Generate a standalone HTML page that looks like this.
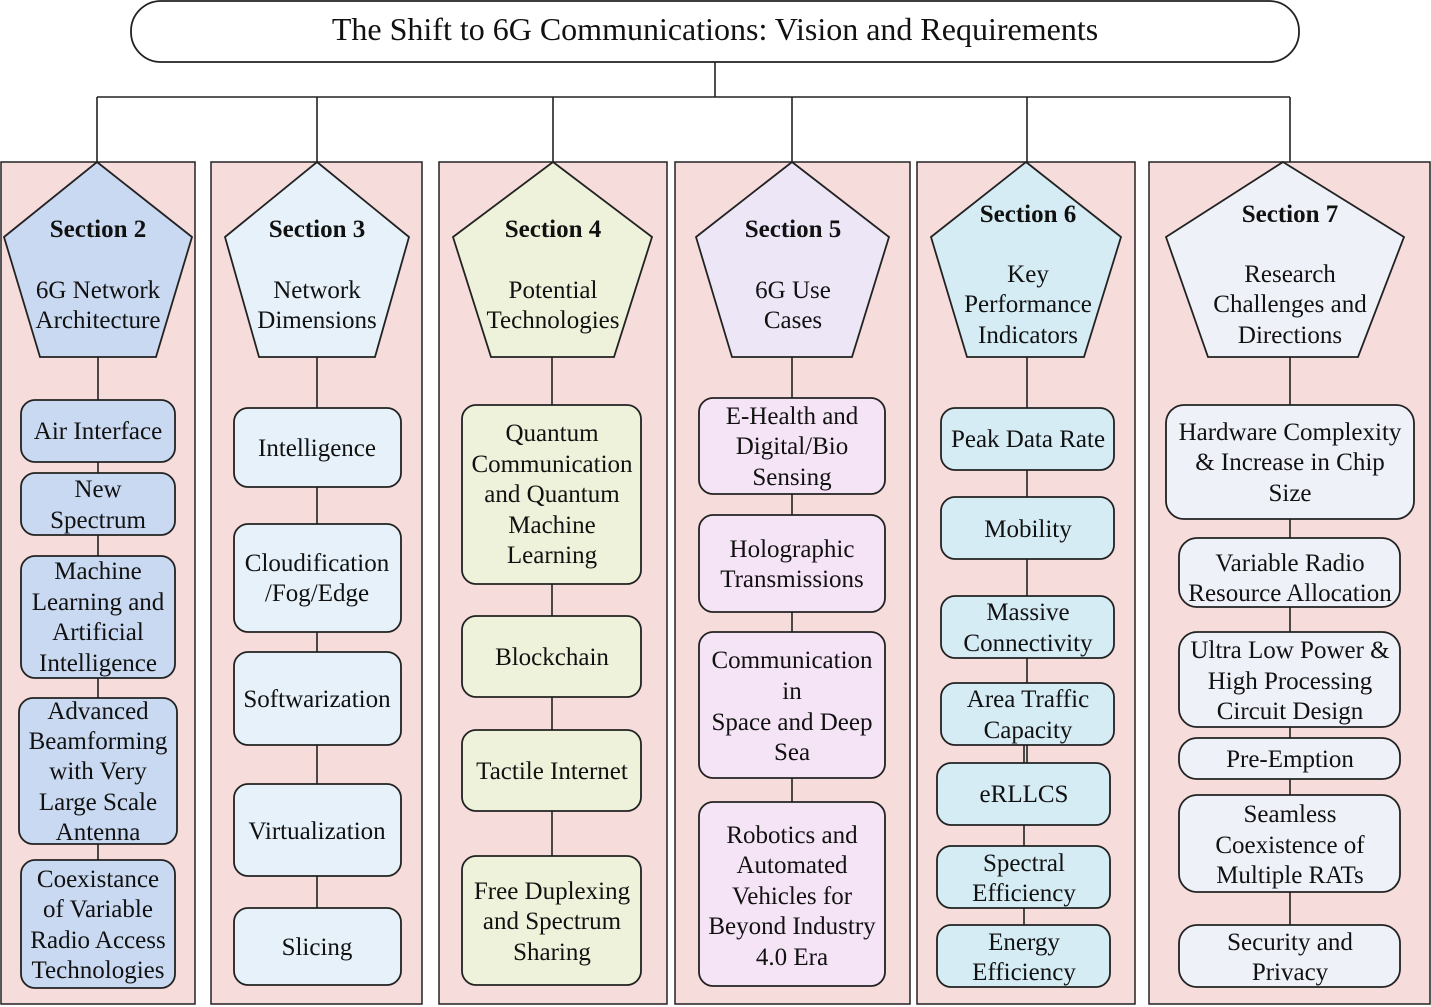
<!DOCTYPE html>
<html><head><meta charset="utf-8"><style>
html,body{margin:0;padding:0;background:#fff}
svg{display:block}
text{font-family:"Liberation Serif",serif;font-size:25px;fill:#111;text-anchor:middle}
.b{font-weight:bold;font-size:25px}
.p{fill:#f7dcdc;stroke:#222;stroke-width:1.5}
rect.x{stroke:#222;stroke-width:1.8}
polygon{stroke:#222;stroke-width:1.8}
line{stroke:#222;stroke-width:1.6}
</style></head><body>
<svg width="1431" height="1007" viewBox="0 0 1431 1007">
<rect x="131" y="1" width="1168" height="61" rx="30" fill="#fff" stroke="#222" stroke-width="1.8"/>
<text x="715" y="40" style="font-size:32px">The Shift to 6G Communications: Vision and Requirements</text>
<line x1="715" y1="62" x2="715" y2="97"/>
<line x1="97" y1="97" x2="1290" y2="97"/>
<line x1="97" y1="97" x2="97" y2="162"/>
<line x1="317" y1="97" x2="317" y2="162"/>
<line x1="553" y1="97" x2="553" y2="162"/>
<line x1="792" y1="97" x2="792" y2="162"/>
<line x1="1027" y1="97" x2="1027" y2="162"/>
<line x1="1290" y1="97" x2="1290" y2="162"/>

<rect class="p" x="1" y="162" width="194" height="842"/>
<rect class="p" x="211" y="162" width="211" height="842"/>
<rect class="p" x="439" y="162" width="228" height="842"/>
<rect class="p" x="675" y="162" width="235" height="842"/>
<rect class="p" x="917" y="162" width="218" height="842"/>
<rect class="p" x="1149" y="162" width="281" height="842"/>

<line x1="98" y1="357" x2="98" y2="860"/>
<line x1="317" y1="357" x2="317" y2="908"/>
<line x1="552" y1="357" x2="552" y2="856"/>
<line x1="792" y1="357" x2="792" y2="802"/>
<line x1="1027" y1="357" x2="1027" y2="763"/>
<line x1="1024" y1="745" x2="1024" y2="925"/>
<line x1="1290" y1="357" x2="1290" y2="925"/>

<polygon points="97,162 192,237 156,357 40,357 4,237" fill="#c9d9f1"/>
<polygon points="317,162 409,237 375,357 259,357 225,237" fill="#e6f1f9"/>
<polygon points="553,162 652,237 614,357 491,357 453,237" fill="#eef2da"/>
<polygon points="792,162 889,237 852,357 732,357 696,237" fill="#ece6f7"/>
<polygon points="1026,162 1121,237 1084,357 967,357 931,237" fill="#d5ecf5"/>
<polygon points="1283,162 1404,237 1358,357 1208,357 1166,237" fill="#eff1f9"/>

<text class="b" x="98" y="237">Section 2</text><text x="98" y="298">6G Network</text><text x="98" y="328">Architecture</text>
<text class="b" x="317" y="237">Section 3</text><text x="317" y="298">Network</text><text x="317" y="328">Dimensions</text>
<text class="b" x="553" y="237">Section 4</text><text x="553" y="298">Potential</text><text x="553" y="328">Technologies</text>
<text class="b" x="793" y="237">Section 5</text><text x="793" y="298">6G Use</text><text x="793" y="328">Cases</text>
<text class="b" x="1028" y="222">Section 6</text><text x="1028" y="282">Key</text><text x="1028" y="312">Performance</text><text x="1028" y="343">Indicators</text>
<text class="b" x="1290" y="222">Section 7</text><text x="1290" y="282">Research</text><text x="1290" y="312">Challenges  and</text><text x="1290" y="343">Directions</text>

<g fill="#c9d9f1">
<rect class="x" x="21" y="400" width="154" height="62" rx="14"/>
<rect class="x" x="21" y="473" width="154" height="62" rx="14"/>
<rect class="x" x="21" y="556" width="154" height="122" rx="14"/>
<rect class="x" x="19" y="698" width="158" height="146" rx="14"/>
<rect class="x" x="21" y="860" width="154" height="128" rx="14"/>
</g>
<text x="98" y="439">Air Interface</text>
<text x="98" y="497">New</text><text x="98" y="528">Spectrum</text>
<text x="98" y="579">Machine</text><text x="98" y="610">Learning and</text><text x="98" y="640">Artificial</text><text x="98" y="671">Intelligence</text>
<text x="98" y="719">Advanced</text><text x="98" y="749">Beamforming</text><text x="98" y="779">with Very</text><text x="98" y="810">Large Scale</text><text x="98" y="840">Antenna</text>
<text x="98" y="887">Coexistance</text><text x="98" y="917">of Variable</text><text x="98" y="948">Radio Access</text><text x="98" y="978">Technologies</text>

<g fill="#e6f1f9">
<rect class="x" x="234" y="408" width="167" height="79" rx="14"/>
<rect class="x" x="234" y="524" width="167" height="108" rx="14"/>
<rect class="x" x="234" y="652" width="167" height="93" rx="14"/>
<rect class="x" x="234" y="784" width="167" height="92" rx="14"/>
<rect class="x" x="234" y="908" width="167" height="77" rx="14"/>
</g>
<text x="317" y="456">Intelligence</text>
<text x="317" y="571">Cloudification</text><text x="317" y="601">/Fog/Edge</text>
<text x="317" y="707">Softwarization</text>
<text x="317" y="839">Virtualization</text>
<text x="317" y="955">Slicing</text>

<g fill="#eef2da">
<rect class="x" x="462" y="405" width="179" height="179" rx="14"/>
<rect class="x" x="462" y="616" width="179" height="81" rx="14"/>
<rect class="x" x="462" y="730" width="179" height="81" rx="14"/>
<rect class="x" x="462" y="856" width="179" height="129" rx="14"/>
</g>
<text x="552" y="441">Quantum</text><text x="552" y="472">Communication</text><text x="552" y="502">and Quantum</text><text x="552" y="533">Machine</text><text x="552" y="563">Learning</text>
<text x="552" y="665">Blockchain</text>
<text x="552" y="779">Tactile Internet</text>
<text x="552" y="899">Free Duplexing</text><text x="552" y="929">and Spectrum</text><text x="552" y="960">Sharing</text>

<g fill="#f5e4f5">
<rect class="x" x="699" y="398" width="186" height="96" rx="14"/>
<rect class="x" x="699" y="515" width="186" height="97" rx="14"/>
<rect class="x" x="699" y="632" width="186" height="146" rx="14"/>
<rect class="x" x="699" y="802" width="186" height="184" rx="14"/>
</g>
<text x="792" y="424">E-Health and</text><text x="792" y="454">Digital/Bio</text><text x="792" y="485">Sensing</text>
<text x="792" y="557">Holographic</text><text x="792" y="587">Transmissions</text>
<text x="792" y="668">Communication</text><text x="792" y="699">in</text><text x="792" y="730">Space and Deep</text><text x="792" y="760">Sea</text>
<text x="792" y="843">Robotics and</text><text x="792" y="873">Automated</text><text x="792" y="904">Vehicles for</text><text x="792" y="934">Beyond Industry</text><text x="792" y="965">4.0 Era</text>

<g fill="#d5ecf5">
<rect class="x" x="941" y="408" width="173" height="62" rx="14"/>
<rect class="x" x="941" y="497" width="173" height="62" rx="14"/>
<rect class="x" x="941" y="596" width="173" height="62" rx="14"/>
<rect class="x" x="941" y="683" width="173" height="62" rx="14"/>
<rect class="x" x="937" y="763" width="173" height="62" rx="14"/>
<rect class="x" x="937" y="846" width="173" height="62" rx="14"/>
<rect class="x" x="937" y="925" width="173" height="62" rx="14"/>
</g>
<text x="1028" y="447">Peak Data Rate</text>
<text x="1028" y="537">Mobility</text>
<text x="1028" y="620">Massive</text><text x="1028" y="651">Connectivity</text>
<text x="1028" y="707">Area Traffic</text><text x="1028" y="738">Capacity</text>
<text x="1024" y="802">eRLLCS</text>
<text x="1024" y="871">Spectral</text><text x="1024" y="901">Efficiency</text>
<text x="1024" y="950">Energy</text><text x="1024" y="980">Efficiency</text>

<g fill="#eff1f9">
<rect class="x" x="1166" y="405" width="248" height="114" rx="18"/>
<rect class="x" x="1179" y="538" width="221" height="69" rx="18"/>
<rect class="x" x="1179" y="632" width="221" height="95" rx="18"/>
<rect class="x" x="1179" y="738" width="221" height="41" rx="18"/>
<rect class="x" x="1179" y="795" width="221" height="97" rx="18"/>
<rect class="x" x="1179" y="925" width="221" height="62" rx="18"/>
</g>
<text x="1290" y="440">Hardware Complexity</text><text x="1290" y="470">&amp; Increase in Chip</text><text x="1290" y="501">Size</text>
<text x="1290" y="571">Variable Radio</text><text x="1290" y="601">Resource Allocation</text>
<text x="1290" y="658">Ultra Low Power &amp;</text><text x="1290" y="689">High Processing</text><text x="1290" y="719">Circuit Design</text>
<text x="1290" y="767">Pre-Emption</text>
<text x="1290" y="822">Seamless</text><text x="1290" y="853">Coexistence of</text><text x="1290" y="883">Multiple RATs</text>
<text x="1290" y="950">Security and</text><text x="1290" y="980">Privacy</text>
</svg>
</body></html>
